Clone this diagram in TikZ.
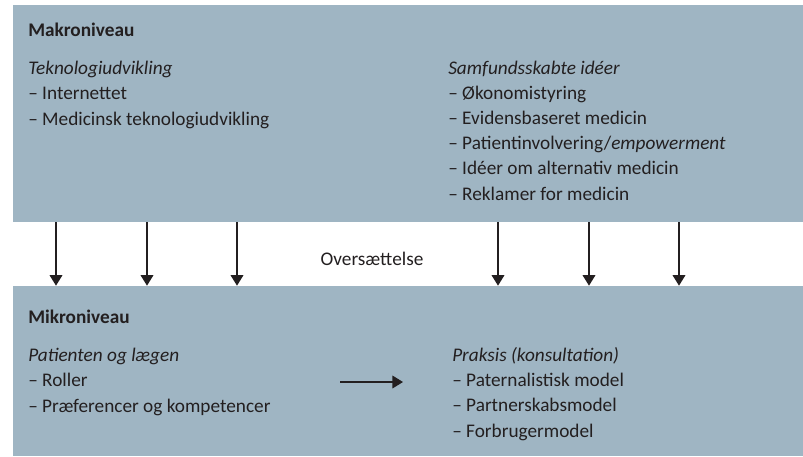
\documentclass[tikz,border=0pt]{standalone}
\usepackage{fontspec}
\setmainfont{Carlito}
\usetikzlibrary{arrows.meta}
\definecolor{niveaublaa}{RGB}{159,181,195}
\definecolor{tekstgraa}{RGB}{35,31,32}

\begin{document}
\begin{tikzpicture}[x=0.025cm, y=-0.025cm,
	boks/.style={fill=niveaublaa, draw=none, inner sep=0pt, minimum width=19.75cm},
	tekst/.style={anchor=base west, align=left, inner sep=0pt, text=tekstgraa,
		font=\fontsize{13.7}{17.8}\selectfont},
	pil/.style={line width=0.9pt, draw=tekstgraa, -{Triangle[width=9pt,length=7.5pt]}}]
	%%%%% START %%%%%
	
	\useasboundingbox (0,0) rectangle (803,456);
	
	% de to niveauer
	\node[boks, minimum height=5.425cm] (makro) at (408,113.5) {};
	\node[boks, minimum height=4.25cm] (mikro) at (408,371) {};
	
	% flerlinjede noder sidder paa sidste linjes grundlinje
	\node[tekst] (makrotitel) at (28,36.7) {\textbf{Makroniveau}};
	\node[tekst] (teknologi) at (28,125) {\textit{Teknologiudvikling}\\
		– Internettet\\
		– Medicinsk teknologiudvikling};
	\node[tekst] (samfund) at (448,200) {\textit{Samfundsskabte idéer}\\
		– Økonomistyring\\
		– Evidensbaseret medicin\\
		– Patientinvolvering/\textit{empowerment}\\
		– Idéer om alternativ medicin\\
		– Reklamer for medicin};
	
	\node[tekst] (mikrotitel) at (28,323) {\textbf{Mikroniveau}};
	\node[tekst] (patient) at (28,412) {\textit{Patienten og lægen}\\
		– Roller\\
		– Præferencer og kompetencer};
	\node[tekst] (praksis) at (452,437) {\textit{Praksis (konsultation)}\\
		– Paternalistisk model\\
		– Partnerskabsmodel\\
		– Forbrugermodel};
	
	\node[tekst, anchor=base] (oversaet) at (372,265) {Oversættelse};
	
	% pile fra makro til mikro
	\foreach \x [count=\i] in {56,147,237,498,589,679} {
		\coordinate (s\i) at (\x,0);
		\draw[pil] (makro.south -| s\i) -- (mikro.north -| s\i);
	}
	
	\coordinate (pilstart) at (340,382);
	\coordinate (pilslut) at (403,382);
	\draw[pil] (pilstart) -- (pilslut);
	
	%%%%% END %%%%%
\end{tikzpicture}
\end{document}
